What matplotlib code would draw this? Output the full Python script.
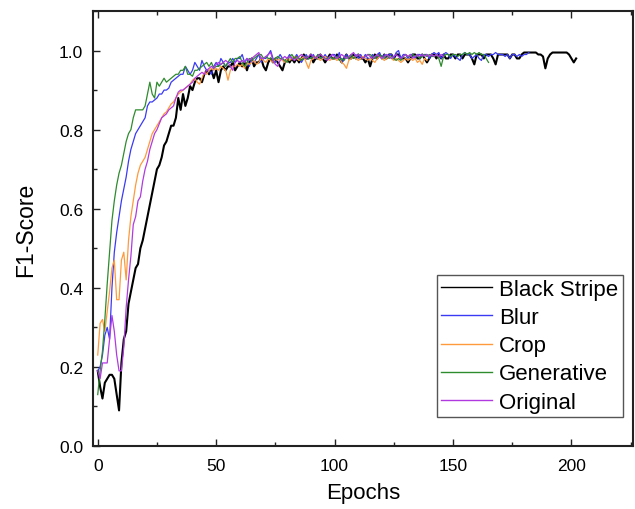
import numpy as np
import matplotlib
matplotlib.use("Agg")
import matplotlib.pyplot as plt
from matplotlib.ticker import MultipleLocator

series_names = ["Black Stripe", "Blur", "Crop", "Generative", "Original"]

black_stripe = [
    0.19, 0.15, 0.12, 0.16, 0.17, 0.18, 0.18, 0.17, 0.13, 0.09,
    0.21, 0.27, 0.29, 0.36, 0.39, 0.42, 0.45, 0.46, 0.50, 0.52,
    0.55, 0.58, 0.61, 0.64, 0.67, 0.70, 0.71, 0.73, 0.76, 0.77,
    0.79, 0.81, 0.81, 0.83, 0.88, 0.85, 0.89, 0.86, 0.88, 0.91,
    0.90, 0.92, 0.93, 0.93, 0.92, 0.94, 0.95, 0.94, 0.95, 0.93,
    0.95, 0.92, 0.95, 0.96, 0.95, 0.96, 0.96, 0.97, 0.95, 0.96,
    0.97, 0.96, 0.97, 0.95, 0.97, 0.98, 0.96, 0.97, 0.97, 0.98,
    0.96, 0.95, 0.97, 0.98, 0.97, 0.98, 0.97, 0.96, 0.95, 0.97,
    0.98, 0.97, 0.98, 0.97, 0.98, 0.97, 0.98, 0.99, 0.98, 0.98,
    0.99, 0.97, 0.98, 0.98, 0.99, 0.98, 0.97, 0.98, 0.99, 0.98,
    0.98, 0.99, 0.98, 0.97, 0.98, 0.99, 0.98, 0.98, 0.99, 0.98,
    0.99, 0.98, 0.98, 0.97, 0.98, 0.96, 0.98, 0.99, 0.98, 0.99,
    0.98, 0.99, 0.98, 0.99, 0.99, 0.98, 0.99, 0.99, 0.98, 0.98,
    0.98, 0.97, 0.98, 0.99, 0.99, 0.98, 0.98, 0.99, 0.98, 0.97,
    0.98, 0.99, 0.99, 0.98, 0.99, 0.98, 0.99, 0.98, 0.98, 0.99,
    0.99, 0.98, 0.99, 0.99, 0.98, 0.99, 0.99, 0.99, 0.98, 0.965,
    0.99, 0.99, 0.99, 0.98, 0.99, 0.99, 0.99, 0.98, 0.965, 0.99,
    0.99, 0.99, 0.99, 0.99, 0.98, 0.99, 0.99, 0.98, 0.98, 0.99,
    0.995, 0.995, 0.995, 0.995, 0.995, 0.995, 0.99, 0.99, 0.985, 0.955,
    0.98, 0.99, 0.995, 0.995, 0.995, 0.995, 0.995, 0.995, 0.995, 0.99,
    0.98, 0.97, 0.98,
]

blur = [
    0.19, 0.20, 0.23, 0.28, 0.30, 0.27, 0.40, 0.49, 0.54, 0.58,
    0.62, 0.65, 0.68, 0.72, 0.75, 0.77, 0.79, 0.80, 0.81, 0.82,
    0.83, 0.86, 0.87, 0.87, 0.875, 0.88, 0.89, 0.89, 0.90, 0.90,
    0.905, 0.92, 0.925, 0.93, 0.935, 0.94, 0.94, 0.96, 0.95, 0.94,
    0.95, 0.97, 0.96, 0.95, 0.975, 0.96, 0.95, 0.95, 0.94, 0.96,
    0.97, 0.96, 0.98, 0.97, 0.96, 0.97, 0.97, 0.98, 0.97, 0.98,
    0.98, 0.99, 0.97, 0.98, 0.96, 0.98, 0.97, 0.98, 0.99, 0.97,
    0.98, 0.98, 0.99, 1.00, 0.98, 0.97, 0.98, 0.99, 0.98, 0.97,
    0.98, 0.99, 0.98, 0.98, 0.99, 0.98, 0.97, 0.98, 0.99, 0.98,
    0.98, 0.99, 0.98, 0.99, 0.98, 0.98, 0.99, 0.98, 0.98, 0.99,
    0.99, 0.98, 0.995, 0.97, 0.98, 0.99, 0.98, 0.99, 0.98, 0.99,
    0.98, 0.99, 0.98, 0.99, 0.98, 0.98, 0.99, 0.98, 0.99, 0.995,
    0.98, 0.99, 0.98, 0.99, 0.99, 0.98, 0.995, 1.00, 0.98, 0.99,
    0.99, 0.98, 0.99, 0.99, 0.98, 0.99, 0.99, 0.985, 0.99, 0.99,
    0.98, 0.99, 0.995, 0.99, 0.995, 0.98, 0.99, 0.995, 0.99, 0.98,
    0.99, 0.985, 0.98, 0.975, 0.99, 0.995, 0.99, 0.99, 0.98, 0.985,
    0.99, 0.98, 0.975, 0.99, 0.99, 0.985, 0.99, 0.99, 0.995, 0.99,
    0.99, 0.99, 0.985, 0.99, 0.98, 0.99, 0.99, 0.985, 0.99, 0.985,
    0.99, 0.99, 0.995,
]

crop = [
    0.23, 0.31, 0.32, 0.29, 0.34, 0.39, 0.45, 0.47, 0.37, 0.37,
    0.47, 0.49, 0.42, 0.52, 0.58, 0.62, 0.66, 0.69, 0.71, 0.72,
    0.73, 0.75, 0.77, 0.79, 0.80, 0.81, 0.82, 0.83, 0.84, 0.845,
    0.855, 0.865, 0.87, 0.88, 0.89, 0.895, 0.90, 0.905, 0.91, 0.915,
    0.925, 0.93, 0.92, 0.915, 0.93, 0.945, 0.94, 0.95, 0.955, 0.95,
    0.955, 0.95, 0.96, 0.955, 0.95, 0.925, 0.95, 0.96, 0.96, 0.965,
    0.96, 0.965, 0.955, 0.97, 0.965, 0.97, 0.975, 0.965, 0.97, 0.98,
    0.975, 0.97, 0.98, 0.975, 0.97, 0.98, 0.975, 0.98, 0.975, 0.97,
    0.98, 0.975, 0.98, 0.985, 0.98, 0.975, 0.98, 0.985, 0.97, 0.955,
    0.975, 0.98, 0.985, 0.98, 0.975, 0.98, 0.985, 0.98, 0.975, 0.98,
    0.98, 0.975, 0.98, 0.97, 0.965, 0.955, 0.975, 0.98, 0.985, 0.98,
    0.975, 0.98, 0.985, 0.98, 0.975, 0.98, 0.975, 0.97, 0.98, 0.985,
    0.98, 0.975, 0.98, 0.985, 0.98, 0.975, 0.98, 0.975, 0.97, 0.975,
    0.98, 0.975, 0.98, 0.975, 0.98, 0.97, 0.975, 0.965, 0.98, 0.975,
]

generative = [
    0.13, 0.19, 0.24, 0.32, 0.41, 0.49, 0.57, 0.62, 0.66, 0.69,
    0.71, 0.74, 0.77, 0.79, 0.80, 0.83, 0.85, 0.85, 0.85, 0.85,
    0.86, 0.89, 0.92, 0.89, 0.88, 0.92, 0.91, 0.92, 0.93, 0.92,
    0.925, 0.93, 0.935, 0.94, 0.94, 0.95, 0.95, 0.96, 0.94, 0.94,
    0.935, 0.95, 0.95, 0.955, 0.96, 0.965, 0.97, 0.96, 0.97, 0.955,
    0.96, 0.96, 0.965, 0.97, 0.96, 0.97, 0.98, 0.97, 0.98, 0.98,
    0.985, 0.97, 0.96, 0.97, 0.98, 0.975, 0.98, 0.985, 0.99, 0.99,
    0.98, 0.985, 0.98, 0.98, 0.975, 0.98, 0.985, 0.98, 0.98, 0.975,
    0.97, 0.985, 0.99, 0.98, 0.985, 0.98, 0.975, 0.98, 0.985, 0.98,
    0.98, 0.985, 0.98, 0.99, 0.98, 0.985, 0.98, 0.98, 0.985, 0.98,
    0.98, 0.985, 0.975, 0.98, 0.975, 0.985, 0.98, 0.99, 0.98, 0.985,
    0.99, 0.985, 0.98, 0.985, 0.99, 0.99, 0.985, 0.98, 0.985, 0.99,
    0.985, 0.98, 0.99, 0.98, 0.985, 0.98, 0.975, 0.98, 0.975, 0.985,
    0.99, 0.985, 0.985, 0.99, 0.985, 0.99, 0.98, 0.985, 0.99, 0.985,
    0.99, 0.985, 0.985, 0.99, 0.98, 0.96, 0.985, 0.99, 0.99, 0.985,
    0.99, 0.99, 0.985, 0.99, 0.99, 0.995, 0.99, 0.995, 0.99, 0.995,
    0.99, 0.995, 0.99, 0.99, 0.98, 0.97,
]

original = [
    0.19, 0.17, 0.21, 0.21, 0.21, 0.27, 0.33, 0.29, 0.23, 0.19,
    0.19, 0.25, 0.35, 0.42, 0.48, 0.56, 0.58, 0.62, 0.63, 0.67,
    0.70, 0.72, 0.75, 0.77, 0.79, 0.80, 0.815, 0.83, 0.835, 0.84,
    0.85, 0.855, 0.86, 0.88, 0.895, 0.90, 0.90, 0.905, 0.91, 0.915,
    0.92, 0.93, 0.935, 0.94, 0.945, 0.94, 0.95, 0.955, 0.96, 0.955,
    0.965, 0.97, 0.965, 0.97, 0.975, 0.97, 0.96, 0.95, 0.97, 0.975,
    0.97, 0.975, 0.97, 0.98, 0.975, 0.98, 0.985, 0.99, 0.995, 0.98,
    0.98, 0.985, 0.99, 0.995, 0.975, 0.965, 0.96, 0.975, 0.98, 0.985,
    0.98, 0.985, 0.98, 0.975, 0.98, 0.985, 0.99, 0.985, 0.98, 0.985,
    0.99, 0.985, 0.98, 0.985, 0.99, 0.985, 0.98, 0.975, 0.985, 0.99,
    0.985, 0.98, 0.985, 0.99, 0.985, 0.98, 0.985, 0.99, 0.995, 0.985,
    0.99, 0.985, 0.98, 0.985, 0.99, 0.985, 0.98, 0.985, 0.99, 0.985,
    0.98, 0.985, 0.99, 0.985, 0.98, 0.985, 0.99, 0.985, 0.98, 0.985,
    0.99, 0.985, 0.99, 0.98, 0.985, 0.99, 0.985, 0.99, 0.985, 0.99,
    0.985, 0.99, 0.985, 0.99, 0.985, 0.99, 0.985,
]

series_values = [black_stripe, blur, crop, generative, original]
series_colors = ["#000000", "#3a3af5", "#ff9a3c", "#2e8b2e", "#b03ae0"]
series_widths = [1.5, 0.9, 0.9, 0.9, 0.9]

x_ticks = [0, 50, 100, 150, 200]
y_ticks = [0.0, 0.2, 0.4, 0.6, 0.8, 1.0]

plt.rcParams['font.family'] = ['Liberation Sans', 'DejaVu Sans']

fig = plt.figure(figsize=(6.35, 5.10), dpi=100)
ax = fig.add_axes([93/635, 1 - 447/510, 540/635, 435/510])

for name, vals, col, lw in zip(series_names, series_values, series_colors, series_widths):
    ep = np.arange(len(vals))
    ax.plot(ep, vals, color=col, lw=lw, label=name)

ax.set_xlim(-2, 226)
ax.set_ylim(0.0, 1.1)
ax.set_xticks(x_ticks)
ax.set_yticks(y_ticks)
ax.set_yticklabels([f"{v:.1f}" for v in y_ticks])
ax.xaxis.set_minor_locator(MultipleLocator(25))
ax.yaxis.set_minor_locator(MultipleLocator(0.1))
ax.tick_params(which='both', direction='in', top=True, right=False, width=1.0,
               labelsize=12.5, color='#222222')
ax.tick_params(axis='x', which='both', pad=9)
ax.tick_params(axis='y', which='both', pad=7)
ax.tick_params(which='major', length=5)
ax.tick_params(which='minor', length=3)
for sp in ax.spines.values():
    sp.set_linewidth(1.5)
    sp.set_color('#222222')

ax.set_xlabel("Epochs", fontsize=16, labelpad=6)
ax.set_ylabel("F1-Score", fontsize=16.5, labelpad=16)

leg = ax.legend(loc='lower right', bbox_to_anchor=(0.981, 0.0667), fontsize=16,
                frameon=True, fancybox=False, edgecolor='#555555', framealpha=1,
                handlelength=2.3, handletextpad=0.32, labelspacing=0.32,
                borderpad=0.2, borderaxespad=0)
leg.get_frame().set_linewidth(1.0)
for ln in leg.get_lines():
    ln.set_linewidth(1.0)

fig.savefig("out.png", dpi=100)
